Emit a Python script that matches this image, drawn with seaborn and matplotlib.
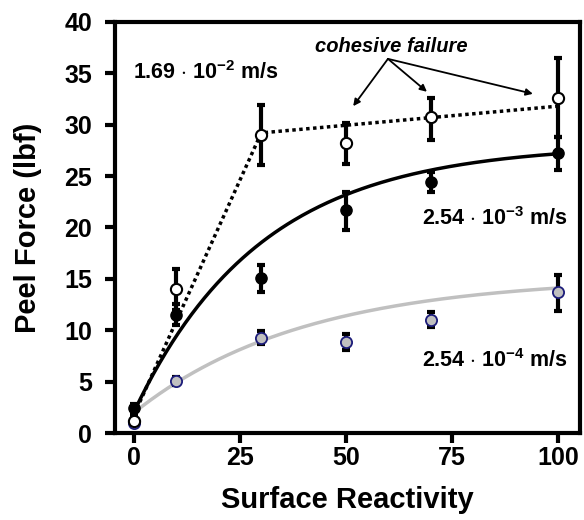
import numpy as np
import pandas as pd
import matplotlib
matplotlib.use("Agg")
import matplotlib.pyplot as plt
import seaborn as sns

# ---- data ----
reactivity = [0, 10, 30, 50, 70, 100]

fast_mean = [1.2, 14.0, 29.0, 28.2, 30.7, 32.6]          # 1.69e-2 m/s (open)
fast_lo = [0.8, 12.0, 26.1, 26.2, 28.5, 28.8]
fast_hi = [1.6, 16.0, 31.9, 30.2, 32.6, 36.5]

mid_mean = [2.4, 11.5, 15.1, 21.7, 24.4, 27.2]           # 2.54e-3 m/s (filled)
mid_lo = [2.0, 10.5, 13.7, 19.8, 23.5, 25.6]
mid_hi = [2.8, 12.6, 16.4, 23.5, 25.4, 28.8]

slow_mean = [1.0, 5.1, 9.3, 8.9, 11.0, 13.7]             # 2.54e-4 m/s (grey)
slow_lo = [0.7, 4.7, 8.7, 8.1, 10.3, 11.9]
slow_hi = [1.3, 5.5, 9.9, 9.6, 11.8, 15.4]

# fit lines
fast_fit_x = [0, 30, 100]
fast_fit_y = [1.8, 29.2, 31.8]
mid_fit = dict(A=28.1, B=26.0, c=30.0)    # y = A - B*exp(-x/c)
slow_fit = dict(A=15.2, B=13.2, c=40.0)

x_ticks = [0, 25, 50, 75, 100]
y_ticks = [0, 5, 10, 15, 20, 25, 30, 35, 40]

sns.set_style("white")
plt.rcParams['font.family'] = ['Liberation Sans', 'DejaVu Sans']
plt.rcParams['mathtext.fontset'] = 'custom'
plt.rcParams['mathtext.rm'] = 'Liberation Sans:bold'
plt.rcParams['mathtext.bf'] = 'Liberation Sans:bold'
plt.rcParams['mathtext.it'] = 'Liberation Sans:bold:italic'
plt.rcParams['mathtext.default'] = 'bf'
plt.rcParams['text.color'] = 'black'
plt.rcParams['axes.labelcolor'] = 'black'
plt.rcParams['xtick.color'] = 'black'
plt.rcParams['ytick.color'] = 'black'

fig = plt.figure(figsize=(5.84, 5.2), dpi=100)
ax = fig.add_axes([0.197, 0.167, 0.796, 0.791])

xs = np.linspace(0, 100, 200)
mid_curve = pd.DataFrame({"x": xs, "y": mid_fit["A"] - mid_fit["B"] * np.exp(-xs / mid_fit["c"])})
slow_curve = pd.DataFrame({"x": xs, "y": slow_fit["A"] - slow_fit["B"] * np.exp(-xs / slow_fit["c"])})
fast_line = pd.DataFrame({"x": fast_fit_x, "y": fast_fit_y})

sns.lineplot(data=slow_curve, x="x", y="y", ax=ax, color="#c0c0c0", lw=2.5, zorder=2)
sns.lineplot(data=mid_curve, x="x", y="y", ax=ax, color="black", lw=2.5, zorder=2)
sns.lineplot(data=fast_line, x="x", y="y", ax=ax, color="black", lw=2.5, zorder=2,
             linestyle=(0, (1.0, 1.0)))

def bars(mean, lo, hi, z):
    m = np.array(mean); l = np.array(lo); h = np.array(hi)
    ax.errorbar(reactivity, m, yerr=[m - l, h - m], fmt="none", ecolor="black",
                elinewidth=3, capsize=3, capthick=3, zorder=z)

bars(slow_mean, slow_lo, slow_hi, 3)
bars(mid_mean, mid_lo, mid_hi, 3)
bars(fast_mean, fast_lo, fast_hi, 3)

sns.scatterplot(x=reactivity, y=slow_mean, ax=ax, s=65, color="#c0c0c0",
                edgecolor="#1c1c7a", linewidth=1.3, zorder=4)
sns.scatterplot(x=reactivity, y=mid_mean, ax=ax, s=65, color="black",
                edgecolor="black", linewidth=1.0, zorder=4)
sns.scatterplot(x=reactivity, y=fast_mean, ax=ax, s=65, color="white",
                edgecolor="black", linewidth=1.5, zorder=5)

ax.set_xlim(-4.5, 105.2)
ax.set_ylim(0, 40)
ax.set_xticks(x_ticks)
ax.set_yticks(y_ticks)
for s in ax.spines.values():
    s.set_linewidth(3)
    s.set_color("black")
ax.tick_params(axis="both", direction="out", length=7.5, width=3, labelsize=18,
               left=True, bottom=True)
ax.tick_params(axis="x", pad=2)
ax.tick_params(axis="y", pad=9)
for lab in ax.get_xticklabels() + ax.get_yticklabels():
    lab.set_fontweight("bold")

ax.set_xlabel("Surface Reactivity", fontsize=21, fontweight="bold", labelpad=11)
ax.set_ylabel("Peel Force (lbf)", fontsize=21, fontweight="bold", labelpad=16)

ax.text(-0.3, 35.1, r"1.69 $\cdot$ 10$^{-2}$ m/s", fontsize=15.5, fontweight="bold",
        ha="left", va="center")
ax.text(102.4, 20.9, r"2.54 $\cdot$ 10$^{-3}$ m/s", fontsize=15.5, fontweight="bold",
        ha="right", va="center")
ax.text(102.4, 7.1, r"2.54 $\cdot$ 10$^{-4}$ m/s", fontsize=15.5, fontweight="bold",
        ha="right", va="center")

ax.text(60.6, 37.6, "cohesive failure", fontsize=14.5, fontweight="bold", style="italic",
        ha="center", va="center")
start = (59.9, 36.4)
for tgt in [(51.7, 31.8), (69.1, 33.2), (94.1, 33.0)]:
    ax.annotate("", xy=tgt, xytext=start,
                arrowprops=dict(arrowstyle="-|>", color="black", lw=1.3,
                                mutation_scale=10, shrinkA=0, shrinkB=0))

fig.savefig("out.png", dpi=100)
